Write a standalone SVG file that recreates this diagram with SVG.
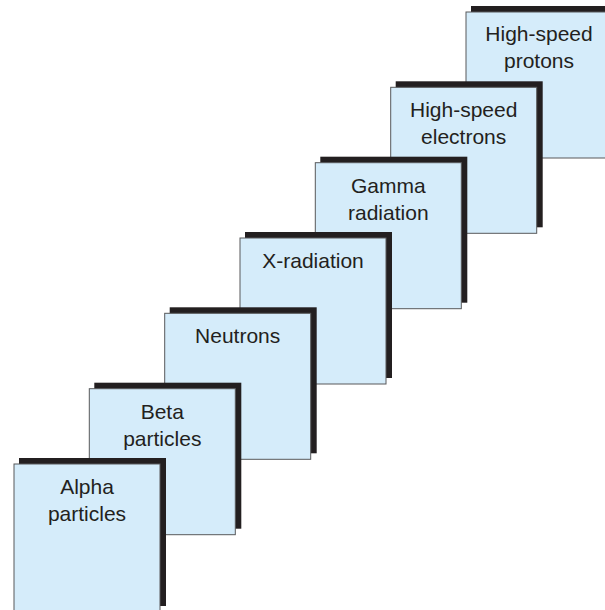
<svg xmlns="http://www.w3.org/2000/svg" width="605" height="610" viewBox="0 0 605 610">
<style>
.sh{fill:#231f20}
.card{fill:#d5ecfa;stroke:#58595b;stroke-width:1}
.t{font-family:"Liberation Sans",Arial,sans-serif;font-size:21px;fill:#231f20;text-anchor:middle}
</style>
<rect width="605" height="610" fill="#ffffff"/>
<g id="protons"><rect class="sh" x="471" y="6" width="147" height="146"/><rect class="card" x="466" y="12" width="146" height="146"/><text class="t" x="539" y="41">High-speed</text><text class="t" x="539" y="68">protons</text></g>
<g id="electrons"><rect class="sh" x="395.7" y="81.3" width="147" height="146"/><rect class="card" x="390.7" y="87.3" width="146" height="146"/><text class="t" x="463.7" y="117">High-speed</text><text class="t" x="463.7" y="144">electrons</text></g>
<g id="gamma"><rect class="sh" x="320.3" y="156.7" width="147" height="146"/><rect class="card" x="315.3" y="162.7" width="146" height="146"/><text class="t" x="388.3" y="192.5">Gamma</text><text class="t" x="388.3" y="219.5">radiation</text></g>
<g id="xradiation"><rect class="sh" x="245" y="232" width="147" height="146"/><rect class="card" x="240" y="238" width="146" height="146"/><text class="t" x="313" y="268">X-radiation</text></g>
<g id="neutrons"><rect class="sh" x="169.7" y="307.3" width="147" height="146"/><rect class="card" x="164.7" y="313.3" width="146" height="146"/><text class="t" x="237.7" y="343">Neutrons</text></g>
<g id="beta"><rect class="sh" x="94.3" y="382.7" width="147" height="146"/><rect class="card" x="89.3" y="388.7" width="146" height="146"/><text class="t" x="162.3" y="418.5">Beta</text><text class="t" x="162.3" y="445.5">particles</text></g>
<g id="alpha"><rect class="sh" x="19" y="458" width="147" height="148"/><rect class="card" x="14" y="464" width="146" height="150"/><text class="t" x="87" y="494">Alpha</text><text class="t" x="87" y="521">particles</text></g>
<g id="connectors"></g>
</svg>
